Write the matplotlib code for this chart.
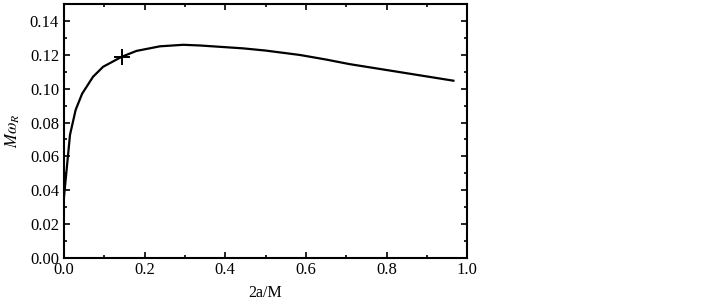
import matplotlib
matplotlib.use("Agg")
import matplotlib.pyplot as plt
from matplotlib.ticker import MultipleLocator

plt.rcParams['font.family'] = ['Liberation Serif', 'DejaVu Serif']
plt.rcParams['mathtext.fontset'] = 'stix'

# curve
spin = [0.0, 0.015, 0.029, 0.045, 0.072, 0.097, 0.143, 0.18, 0.238, 0.296,
        0.337, 0.444, 0.5, 0.585, 0.65, 0.708, 0.832, 0.966]
omega = [0.036, 0.0728, 0.0875, 0.097, 0.107, 0.1129, 0.1188, 0.1223, 0.125, 0.1259,
         0.1255, 0.1238, 0.1225, 0.1199, 0.1172, 0.1145, 0.1098, 0.1047]
marker_x = [0.143]
marker_y = [0.1188]

fig = plt.figure(figsize=(7.22, 3.02), dpi=100)
ax = fig.add_axes([0.0886, 0.1457, 0.5584, 0.8411])

ax.plot(spin, omega, color='black', lw=1.6)
ax.plot(marker_x, marker_y, marker='+', color='black', ms=11, mew=1.4, ls='none')

ax.set_xlim(0, 1.0)
ax.set_ylim(0, 0.15)
ax.xaxis.set_minor_locator(MultipleLocator(0.1))
ax.yaxis.set_minor_locator(MultipleLocator(0.01))
ax.set_yticks([0.0, 0.02, 0.04, 0.06, 0.08, 0.10, 0.12, 0.14])
ax.set_yticklabels(['0.00', '0.02', '0.04', '0.06', '0.08', '0.10', '0.12', '0.14'])
ax.set_xticks([0.0, 0.2, 0.4, 0.6, 0.8, 1.0])
ax.set_xticklabels(['0.0', '0.2', '0.4', '0.6', '0.8', '1.0'])

ax.tick_params(which='both', direction='in', top=True, right=True, labelsize=12, width=1.2)
ax.tick_params(which='major', length=4)
ax.tick_params(which='minor', length=2.5)
ax.tick_params(axis='x', pad=3)
for s in ax.spines.values():
    s.set_linewidth(1.5)

ax.set_xlabel('2a/M', fontsize=11.5, labelpad=5)
ax.set_ylabel(r'$M\omega_R$', fontsize=12, labelpad=6)

fig.savefig('out.png', dpi=100)
